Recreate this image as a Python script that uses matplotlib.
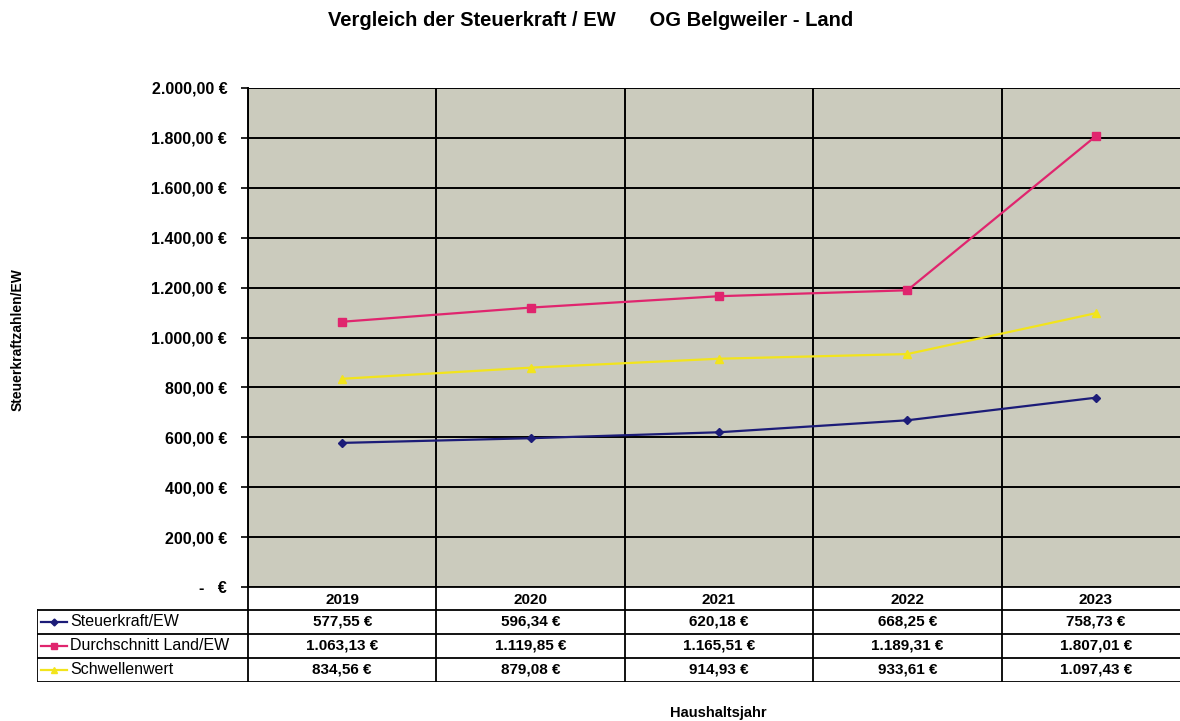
import matplotlib

matplotlib.use("Agg")
import matplotlib.pyplot as plt
from matplotlib.lines import Line2D
from matplotlib.ticker import FuncFormatter, MultipleLocator

plt.rcParams["font.family"] = ["Liberation Sans", "DejaVu Sans"]

years = ["2019", "2020", "2021", "2022", "2023"]
series_names = ["Steuerkraft/EW", "Durchschnitt Land/EW", "Schwellenwert"]
steuerkraft = [577.55, 596.34, 620.18, 668.25, 758.73]
durchschnitt = [1063.13, 1119.85, 1165.51, 1189.31, 1807.01]
schwelle = [834.56, 879.08, 914.93, 933.61, 1097.43]

series = [steuerkraft, durchschnitt, schwelle]
colors = ["#1c1c78", "#e0256e", "#f2e41c"]
markers = ["D", "s", "^"]
msizes = [4.5, 6, 6]


def euro(v):
    s = f"{v:,.2f}".replace(",", "X").replace(".", ",").replace("X", ".")
    return s + " €"


def tick_fmt(v, pos):
    if abs(v) < 1e-9:
        return "-   €"
    return euro(v)


W, H = 1180, 721
fig = plt.figure(figsize=(W / 100, H / 100), dpi=100)
fig.patch.set_facecolor("white")

# main plot area (right edge runs slightly past the image, as in the scan)
x0, x1, y0, y1 = 248, 1190, 88, 587
ax = fig.add_axes([x0 / W, 1 - y1 / H, (x1 - x0) / W, (y1 - y0) / H])
ax.set_facecolor("#cbcbbd")
n = len(years)
xs = list(range(n))
for vals, c, m, ms in zip(series, colors, markers, msizes):
    ax.plot(xs, vals, color=c, linewidth=1.6, marker=m, markersize=ms,
            markerfacecolor=c, markeredgecolor=c, zorder=3)

ax.set_xlim(-0.5, n - 0.5)
ax.set_ylim(0, 2000)
ax.yaxis.set_major_locator(MultipleLocator(200))
ax.yaxis.set_major_formatter(FuncFormatter(tick_fmt))
ax.set_xticks([i - 0.5 for i in range(n + 1)])
ax.set_xticklabels([])
ax.tick_params(axis="x", length=0)
ax.tick_params(axis="y", length=5, width=1.2, labelsize=11.5, pad=10)
for lab in ax.get_yticklabels():
    lab.set_fontweight("bold")
ax.grid(True, color="black", linewidth=1.4)
ax.set_axisbelow(True)
for side in ["top", "right", "bottom"]:
    ax.spines[side].set_visible(False)
ax.spines["left"].set_linewidth(1.4)

# data table below the plot
tx0, ty0, ty1 = 37, 587, 682
tax = fig.add_axes([tx0 / W, 1 - ty1 / H, (x1 - tx0) / W, (ty1 - ty0) / H])
tax.set_xlim(tx0, x1)
tax.set_ylim(ty1, ty0)
tax.axis("off")
colw = (x1 - x0) / n
row_h = [23, 24, 24, 24]
row_top = [ty0]
for h in row_h:
    row_top.append(row_top[-1] + h)
lw = 1.3
# horizontal lines
tax.plot([x0, x1], [row_top[0], row_top[0]], color="black", lw=lw)
for r in range(1, 5):
    tax.plot([tx0, x1], [row_top[r], row_top[r]], color="black", lw=lw)
# vertical lines
tax.plot([tx0, tx0], [row_top[1], row_top[4]], color="black", lw=lw)
for i in range(n + 1):
    tax.plot([x0 + i * colw] * 2, [row_top[0], row_top[4]], color="black", lw=lw)
# header
for i, yr in enumerate(years):
    tax.text(x0 + (i + 0.5) * colw, (row_top[0] + row_top[1]) / 2 + 1, yr,
             ha="center", va="center", fontsize=11, fontweight="bold")
# rows
for r, (name, vals, c, m, ms) in enumerate(zip(series_names, series, colors, markers, msizes)):
    yc = (row_top[r + 1] + row_top[r + 2]) / 2
    tax.add_line(Line2D([tx0 + 4, tx0 + 30], [yc, yc], color=c, lw=1.6))
    tax.plot([tx0 + 17], [yc], marker=m, color=c, markersize=ms - 1)
    tax.text(tx0 + 33, yc, name, ha="left", va="center", fontsize=11.5)
    for i, v in enumerate(vals):
        tax.text(x0 + (i + 0.5) * colw, yc, euro(v), ha="center", va="center",
                 fontsize=11, fontweight="bold")

fig.text(591 / W, 1 - 21 / H, "Vergleich der Steuerkraft / EW      OG Belgweiler - Land",
         ha="center", va="center", fontsize=14.5, fontweight="bold")
fig.text(18 / W, 1 - 340 / H, "Steuerkraftzahlen/EW", rotation=90,
         ha="center", va="center", fontsize=10, fontweight="bold")
fig.text(718 / W, 1 - 713 / H, "Haushaltsjahr", ha="center", va="center",
         fontsize=10.5, fontweight="bold")

fig.savefig("out.png", dpi=100)
